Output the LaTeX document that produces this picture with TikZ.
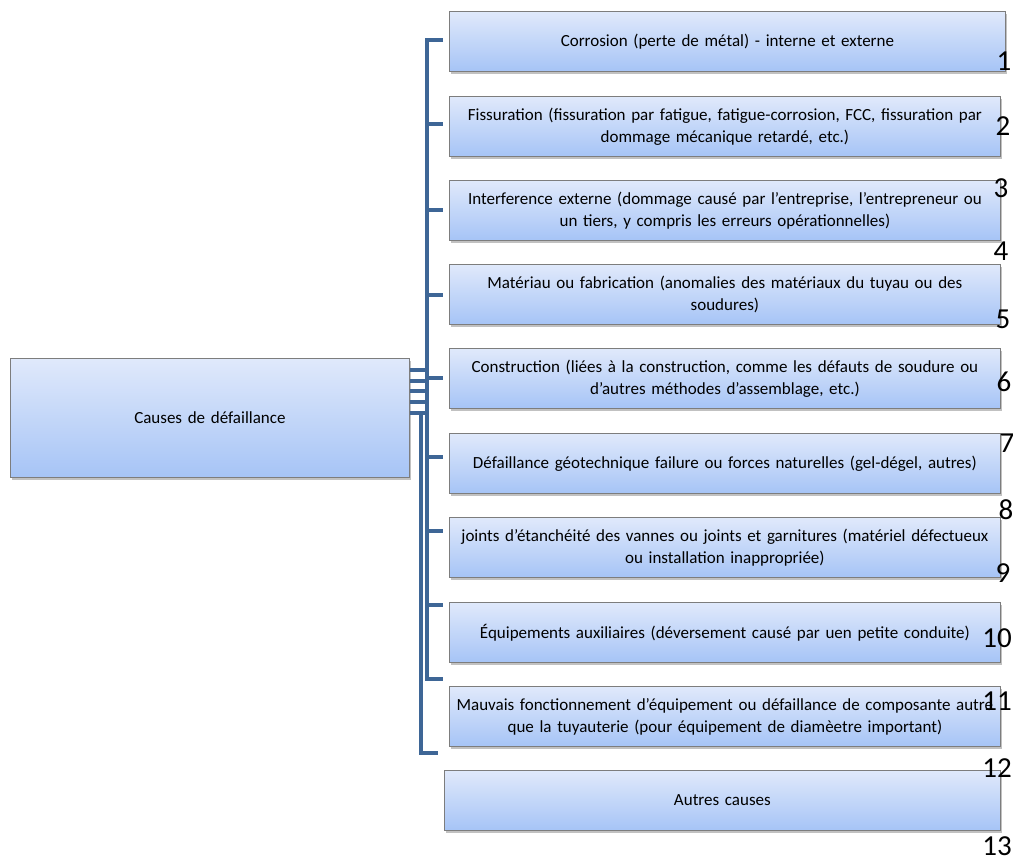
\documentclass[tikz,border=0pt]{standalone}
\usepackage{fontspec}
\setmainfont{Carlito}[WordSpace={0.6,0.3,0.2}]
\usetikzlibrary{shadows}
\definecolor{spine}{RGB}{62,102,150}
\definecolor{boxtop}{RGB}{224,233,251}
\definecolor{boxbot}{RGB}{166,196,246}
\definecolor{boxedge}{RGB}{125,125,125}
\begin{document}
\begin{tikzpicture}[x=1pt,y=-1pt,
  box/.style={draw=boxedge, line width=0.8pt, top color=boxtop, bottom color=boxbot,
    anchor=north west, minimum height=60pt, align=center, inner xsep=2pt, inner ysep=0pt,
    text width=547pt, font=\fontsize{17}{22}\selectfont,
    drop shadow={shadow xshift=2pt, shadow yshift=-3pt, opacity=0.35, fill=black!70}},
  num/.style={font=\fontsize{29}{29}\selectfont, inner sep=0pt},
  conn/.style={draw=spine, line width=3.6pt}]
\useasboundingbox (0,0) rectangle (1013,861);

% root
\node[box, text width=395pt, minimum height=119pt] (L) at (10,358) {Causes de défaillance};

% children
\node[box, text width=552pt] (b1) at (449,11) {Corrosion (perte de métal) - interne et externe};
\node[box] (b2) at (449,96) {Fissuration (fissuration par fatigue, fatigue-corrosion, FCC, fissuration par\\dommage mécanique retardé, etc.)};
\node[box] (b3) at (449,180) {Interference externe (dommage causé par l'entreprise, l'entrepreneur ou\\un tiers, y compris les erreurs opérationnelles)};
\node[box] (b4) at (449,264) {Matériau ou fabrication (anomalies des matériaux du tuyau ou des\\soudures)};
\node[box] (b5) at (449,348) {Construction (liées à la construction, comme les défauts de soudure ou\\d'autres méthodes d'assemblage, etc.)};
\node[box] (b6) at (449,433) {Défaillance géotechnique failure ou forces naturelles (gel-dégel, autres)};
\node[box] (b7) at (449,517) {joints d'étanchéité des vannes ou joints et garnitures (matériel défectueux\\ou installation inappropriée)};
\node[box] (b8) at (449,602) {Équipements auxiliaires (déversement causé par uen petite conduite)};
\node[box] (b9) at (449,686) {Mauvais fonctionnement d'équipement ou défaillance de composante autre\\que la tuyauterie (pour équipement de diamèetre important)};
\node[box, text width=552pt] (b10) at (444,770) {Autres causes};

% spine coordinates
\coordinate (aT) at (427,40);
\coordinate (aB) at (427,679);
\coordinate (bT) at (421,413);
\coordinate (bB) at (421,753);

% spine A with ticks
\draw[conn] (443,40) -- (aT) -- (aB) -- (443,679);
\foreach \y in {124,210,295,378,457,531,605}
  \draw[conn] (427,\y) -- (443,\y);
% spine B
\draw[conn] (bT) -- (bB) -- (438,753);
% stubs from root
\foreach \y in {370,381,391,402,413}
  \draw[conn] (L.east |- 0,\y) -- (427,\y);

% numbers
\node[num] (n1) at (1004,61) {1};
\node[num] (n2) at (1003,126) {2};
\node[num] (n3) at (1001,188) {3};
\node[num] (n4) at (1001,251) {4};
\node[num] (n5) at (1003,319) {5};
\node[num] (n6) at (1004,382) {6};
\node[num] (n7) at (1007,443) {7};
\node[num] (n8) at (1006,510) {8};
\node[num] (n9) at (1003,573) {9};
\node[num] (n10) at (997,638) {10};
\node[num] (n11) at (997,701) {11};
\node[num] (n12) at (997,768) {12};
\node[num] (n13) at (997,846) {13};
\end{tikzpicture}
\end{document}
